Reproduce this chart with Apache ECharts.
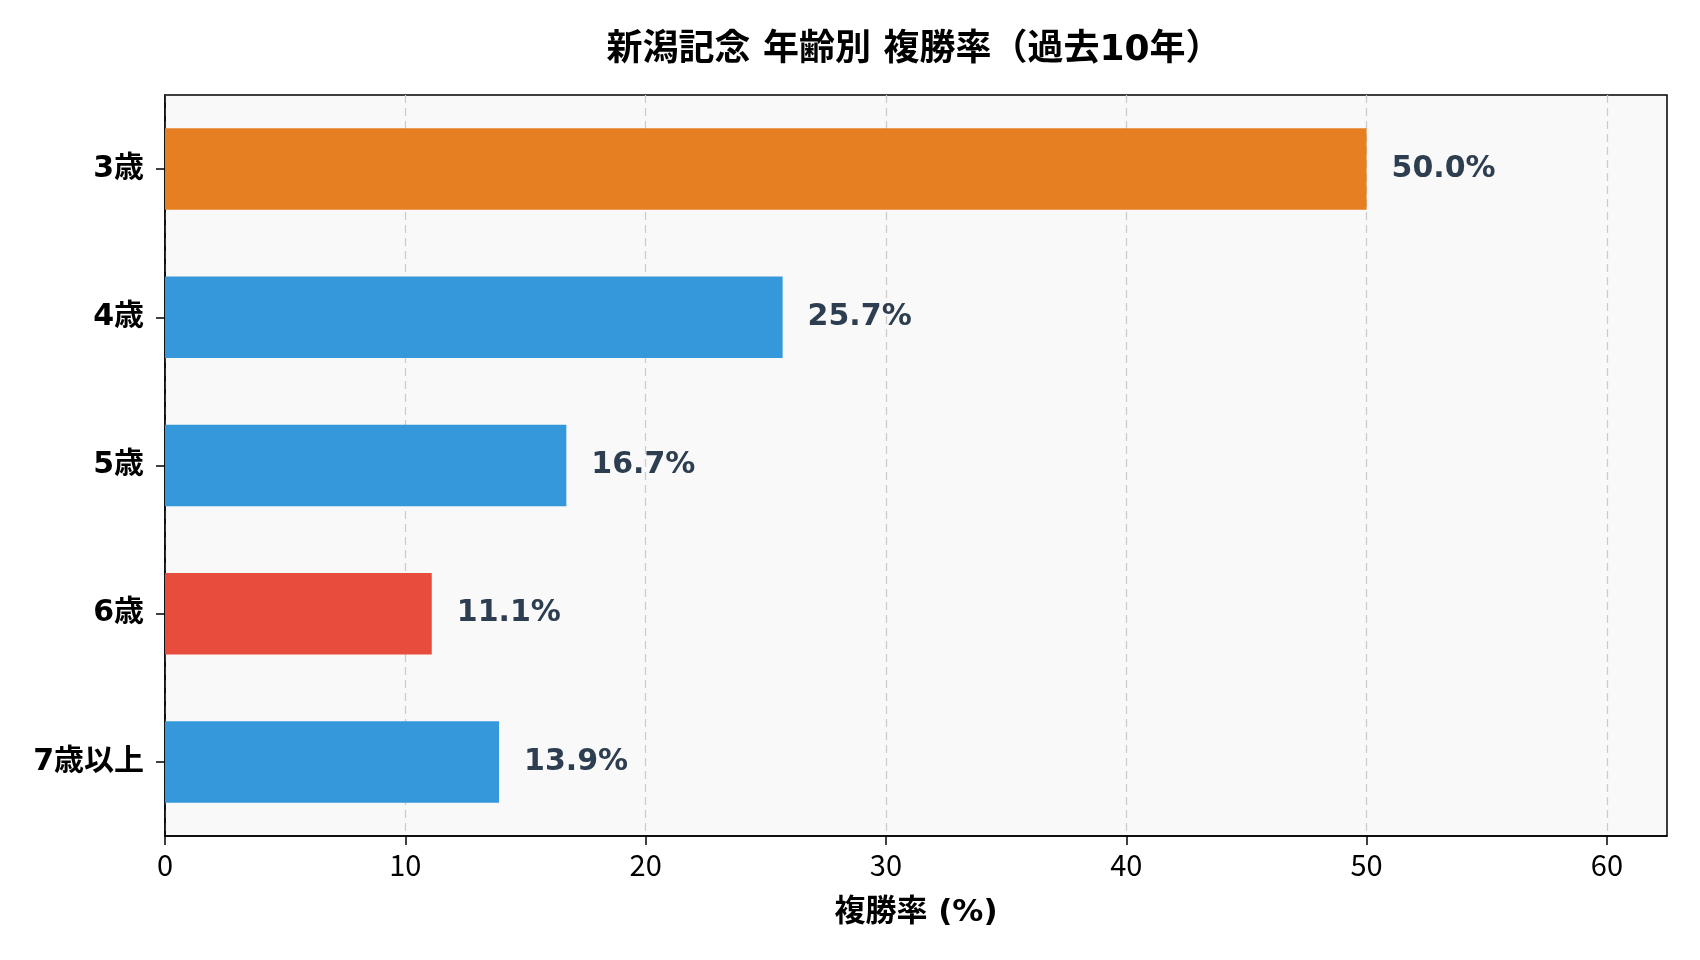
<!DOCTYPE html>
<html>
<head>
<meta charset="utf-8">
<script src="https://cdn.jsdelivr.net/npm/echarts@6/dist/echarts.min.js"></script>
<style>
html,body{margin:0;padding:0;background:#fff;}
#chart{width:1700px;height:960px;}
</style>
</head>
<body>
<div id="chart"></div>
<script>
const categories = ['3歳', '4歳', '5歳', '6歳', '7歳以上'];
const placeRates = [50.0, 25.7, 16.7, 11.1, 13.9];
const barColors = ['#e67e22', '#3498db', '#3498db', '#e74c3c', '#3498db'];
const xTickValues = [0, 10, 20, 30, 40, 50, 60];
const titleText = '新潟記念 年齢別 複勝率（過去10年）';
const xAxisName = '複勝率 (%)';

const chart = echarts.init(document.getElementById('chart'), null, {renderer: 'canvas'});
const cjk = '"DejaVu Sans", "Noto Sans CJK JP", sans-serif';
chart.setOption({
  backgroundColor: '#ffffff',
  animation: false,
  title: {
    text: titleText,
    left: 909,
    top: 28,
    textAlign: 'center',
    textStyle: {fontFamily: cjk, fontWeight: 'bold', fontSize: 36, color: '#000'}
  },
  grid: {
    left: 165, right: 33, top: 95, bottom: 124,
    show: true, backgroundColor: '#f9f9f9', borderColor: '#000', borderWidth: 1.5
  },
  xAxis: {
    type: 'value', min: 0, max: 62.5, interval: 10,
    name: xAxisName, nameLocation: 'middle', nameGap: 61,
    nameTextStyle: {fontFamily: cjk, fontWeight: 'bold', fontSize: 31, color: '#000'},
    axisLine: {show: true, lineStyle: {color: '#000', width: 1.5}},
    axisTick: {show: true, length: 9, lineStyle: {color: '#000', width: 1.5}, customValues: xTickValues},
    axisLabel: {fontFamily: '"Noto Sans CJK JP", sans-serif', fontSize: 29, color: '#000', margin: 14, customValues: xTickValues},
    splitLine: {show: true, lineStyle: {color: '#cccccc', type: [8, 5], width: 1.3}}
  },
  yAxis: {
    type: 'category', data: categories, inverse: true,
    axisLine: {show: true, lineStyle: {color: '#000', width: 1.5}},
    axisTick: {show: true, length: 9, alignWithLabel: true, lineStyle: {color: '#000', width: 1.5}},
    axisLabel: {fontFamily: cjk, fontWeight: 'bold', fontSize: 30, color: '#000', margin: 21},
    splitLine: {show: false}
  },
  series: [{
    type: 'bar',
    data: placeRates.map((v, i) => ({value: v, itemStyle: {color: barColors[i]}})),
    barWidth: '55%',
    label: {
      show: true, position: 'right', distance: 25,
      formatter: p => p.value.toFixed(1) + '%',
      fontFamily: '"DejaVu Sans", sans-serif', fontWeight: 'bold', fontSize: 30, color: '#2c3e50'
    }
  }]
});
</script>
</body>
</html>
